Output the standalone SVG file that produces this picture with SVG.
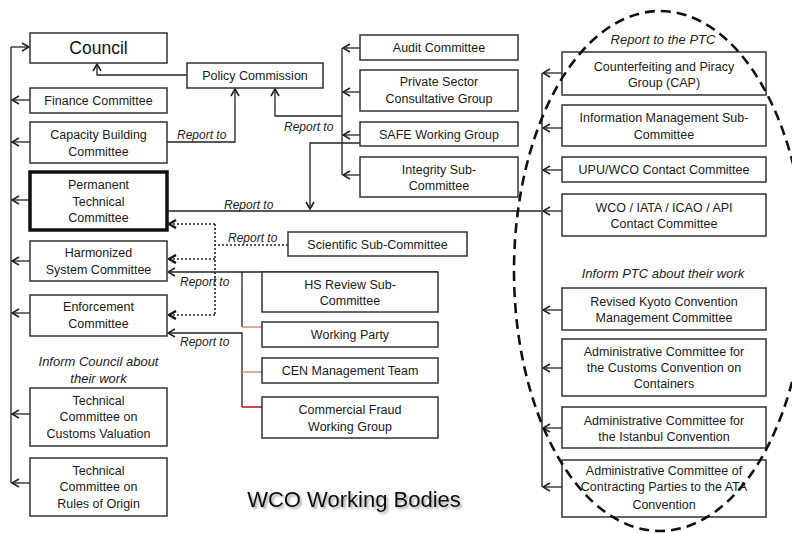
<svg xmlns="http://www.w3.org/2000/svg" width="792" height="533" viewBox="0 0 792 533">
<style>
.box{fill:#fff;stroke:#333;stroke-width:1.5}
.thick{fill:#fff;stroke:#111;stroke-width:3.5}
.t{font-family:"Liberation Sans",Arial,sans-serif;font-size:12.5px;fill:#1a1a1a;text-anchor:middle}
.big{font-size:17.5px;fill:#111}
.lbl{font-family:"Liberation Sans",Arial,sans-serif;font-size:12px;font-style:italic;fill:#222}
.inf{font-size:13px;text-anchor:middle}
.ln{fill:none;stroke:#222;stroke-width:1.3}
.ar{marker-end:url(#arr)}
.dot{fill:none;stroke:#222;stroke-width:1.6;stroke-dasharray:2,2}
.gray{fill:none;stroke:#666;stroke-width:2}
.red1{stroke:#d98a78;stroke-width:1.5}
.red2{stroke:#c23a28;stroke-width:1.8}
.title{font-family:"Liberation Sans",Arial,sans-serif;font-size:22px;fill:#111;text-anchor:middle}
</style>
<defs>
<marker id="arr" viewBox="0 0 10 10" refX="9" refY="5" markerWidth="10" markerHeight="10" markerUnits="userSpaceOnUse" orient="auto">
<path d="M2,1 L9,5 L2,9" fill="none" stroke="#222" stroke-width="1.6"/>
</marker>
<marker id="arrb" viewBox="0 0 10 10" refX="9" refY="5" markerWidth="10" markerHeight="10" markerUnits="userSpaceOnUse" orient="auto">
<path d="M2,1 L9,5 L2,9" fill="none" stroke="#111" stroke-width="2.4"/>
</marker>
<filter id="sh" x="-10%" y="-30%" width="120%" height="160%">
<feGaussianBlur in="SourceAlpha" stdDeviation="1.2"/>
<feOffset dx="1.5" dy="2" result="b"/>
<feComponentTransfer><feFuncA type="linear" slope="0.35"/></feComponentTransfer>
<feMerge><feMergeNode/><feMergeNode in="SourceGraphic"/></feMerge>
</filter>
</defs>
<rect width="792" height="533" fill="#fff"/>

<g id="connectors">
<path class="ln" d="M11,47 V483"/>
<path class="ln ar" d="M11,47 H29"/>
<path class="ln ar" d="M30,100 H12"/>
<path class="ln ar" d="M30,142 H12"/>
<path class="ln ar" d="M30,200 H12"/>
<path class="ln ar" d="M30,261 H12"/>
<path class="ln ar" d="M30,313 H12"/>
<path class="ln ar" d="M30,414 H12"/>
<path class="ln ar" d="M30,483 H12"/>
<path class="ln ar" d="M187,75 H97 V64"/>
<path class="ln ar" d="M167,142 H235 V89"/>
<path class="ln" d="M342,48 V175"/>
<path class="ln ar" d="M360,48 H343"/>
<path class="ln ar" d="M360,92 H343"/>
<path class="ln ar" d="M360,135 H343"/>
<path class="ln ar" d="M360,175 H343"/>
<path class="ln ar" d="M342,116 H275 V89"/>
<path class="ln ar" d="M360,143 H310 V209"/>
<path class="ln" d="M168,211 H542" style="stroke-width:1.6"/>
<path class="gray" d="M542,73 V487"/>
<path class="ln ar" d="M562,73 H543"/>
<path class="ln ar" d="M562,128 H543"/>
<path class="ln ar" d="M562,170 H543"/>
<path class="ln ar" d="M562,211 H543"/>
<path class="ln ar" d="M562,310 H543"/>
<path class="ln ar" d="M562,368 H543"/>
<path class="ln ar" d="M562,428 H543"/>
<path class="ln ar" d="M562,487 H543"/>
<path class="dot" d="M288,245 H215"/>
<path class="dot" d="M215,224 V316"/>
<path class="dot" d="M215,224 H169" style="marker-end:url(#arrb)"/>
<path class="dot" d="M215,259 H169" style="marker-end:url(#arrb)"/>
<path class="dot" d="M215,315 H169" style="marker-end:url(#arrb)"/>
<path class="ln ar" d="M438,272 H168"/>
<path class="ln" d="M242,272 V327"/>
<path class="ln ar" d="M242,407 V333 H168"/>
<path class="red1" d="M242,327 H262"/>
<path class="red1" d="M242,372 H262"/>
<path class="red2" d="M242,407 H262"/>
<text class="lbl" x="177" y="139">Report to</text>
<text class="lbl" x="284" y="131">Report to</text>
<text class="lbl" x="224" y="209">Report to</text>
<text class="lbl" x="228" y="242">Report to</text>
<text class="lbl" x="180" y="286">Report to</text>
<text class="lbl" x="180" y="346">Report to</text>
</g>

<g id="council"><rect class="box" x="30" y="33" width="137" height="30"/><text class="t big" x="98.5" y="54">Council</text></g>
<g id="finance"><rect class="box" x="30" y="88" width="137" height="25"/><text class="t" x="98.5" y="105">Finance Committee</text></g>
<g id="capacity"><rect class="box" x="30" y="122" width="137" height="41"/><text class="t" x="98.5" y="139">Capacity Building</text><text class="t" x="98.5" y="156">Committee</text></g>
<g id="ptc"><rect class="thick" x="30" y="172" width="137" height="58"/><text class="t" x="98.5" y="189">Permanent</text><text class="t" x="98.5" y="206">Technical</text><text class="t" x="98.5" y="222">Committee</text></g>
<g id="hs"><rect class="box" x="30" y="241" width="137" height="40"/><text class="t" x="98.5" y="257">Harmonized</text><text class="t" x="98.5" y="274">System Committee</text></g>
<g id="enforcement"><rect class="box" x="30" y="295" width="137" height="41"/><text class="t" x="98.5" y="311">Enforcement</text><text class="t" x="98.5" y="328">Committee</text></g>
<g id="inform-council"><text class="lbl inf" x="98.5" y="366">Inform Council about</text><text class="lbl inf" x="98.5" y="383">their work</text></g>
<g id="tccv"><rect class="box" x="30" y="388" width="137" height="58"/><text class="t" x="98.5" y="405">Technical</text><text class="t" x="98.5" y="421">Committee on</text><text class="t" x="98.5" y="438">Customs Valuation</text></g>
<g id="tcro"><rect class="box" x="30" y="458" width="137" height="58"/><text class="t" x="98.5" y="475">Technical</text><text class="t" x="98.5" y="491">Committee on</text><text class="t" x="98.5" y="508">Rules of Origin</text></g>

<g id="policy"><rect class="box" x="187" y="63" width="136" height="25"/><text class="t" x="255" y="80">Policy Commission</text></g>
<g id="audit"><rect class="box" x="360" y="35" width="158" height="25"/><text class="t" x="439" y="52">Audit Committee</text></g>
<g id="private"><rect class="box" x="360" y="70" width="158" height="41"/><text class="t" x="439" y="86">Private Sector</text><text class="t" x="439" y="103">Consultative Group</text></g>
<g id="safe"><rect class="box" x="360" y="122" width="158" height="24"/><text class="t" x="439" y="139">SAFE Working Group</text></g>
<g id="integrity"><rect class="box" x="360" y="157" width="158" height="40"/><text class="t" x="439" y="174">Integrity Sub-</text><text class="t" x="439" y="190">Committee</text></g>

<g id="scientific"><rect class="box" x="288" y="232" width="179" height="24"/><text class="t" x="377.5" y="249">Scientific Sub-Committee</text></g>
<g id="hsreview"><rect class="box" x="262" y="272" width="176" height="40"/><text class="t" x="350" y="289">HS Review Sub-</text><text class="t" x="350" y="305">Committee</text></g>
<g id="workingparty"><rect class="box" x="262" y="322" width="176" height="25"/><text class="t" x="350" y="339">Working Party</text></g>
<g id="cen"><rect class="box" x="262" y="358" width="176" height="25"/><text class="t" x="350" y="375">CEN Management Team</text></g>
<g id="fraud"><rect class="box" x="262" y="397" width="176" height="41"/><text class="t" x="350" y="414">Commercial Fraud</text><text class="t" x="350" y="431">Working Group</text></g>

<g id="report-ptc"><text class="lbl inf" x="663" y="44">Report to the PTC</text></g>
<g id="cap"><rect class="box" x="562" y="52" width="204" height="43"/><text class="t" x="664" y="71">Counterfeiting and Piracy</text><text class="t" x="664" y="87">Group (CAP)</text></g>
<g id="infomgmt"><rect class="box" x="562" y="105" width="204" height="41"/><text class="t" x="664" y="122">Information Management Sub-</text><text class="t" x="664" y="139">Committee</text></g>
<g id="upu"><rect class="box" x="562" y="157" width="204" height="25"/><text class="t" x="664" y="174">UPU/WCO Contact Committee</text></g>
<g id="iata"><rect class="box" x="562" y="194" width="204" height="42"/><text class="t" x="664" y="212">WCO / IATA / ICAO / API</text><text class="t" x="664" y="228">Contact Committee</text></g>
<g id="inform-ptc"><text class="lbl inf" x="663" y="278">Inform PTC about their work</text></g>
<g id="kyoto"><rect class="box" x="562" y="288" width="204" height="42"/><text class="t" x="664" y="306">Revised Kyoto Convention</text><text class="t" x="664" y="322">Management Committee</text></g>
<g id="containers"><rect class="box" x="562" y="339" width="204" height="57"/><text class="t" x="664" y="356">Administrative Committee for</text><text class="t" x="664" y="372">the Customs Convention on</text><text class="t" x="664" y="388">Containers</text></g>
<g id="istanbul"><rect class="box" x="562" y="407" width="204" height="41"/><text class="t" x="664" y="425">Administrative Committee for</text><text class="t" x="664" y="441">the Istanbul Convention</text></g>
<g id="ata"><rect class="box" x="562" y="460" width="204" height="57"/><text class="t" x="664" y="475">Administrative Committee of</text><text class="t" x="664" y="491">Contracting Parties to the ATA</text><text class="t" x="664" y="509">Convention</text></g>

<g id="ellipse"><ellipse cx="660" cy="271" rx="146" ry="260" fill="none" stroke="#111" stroke-width="2.6" stroke-dasharray="10,6"/></g>

<g id="title"><text class="title" x="354" y="507" filter="url(#sh)">WCO Working Bodies</text></g>
</svg>
